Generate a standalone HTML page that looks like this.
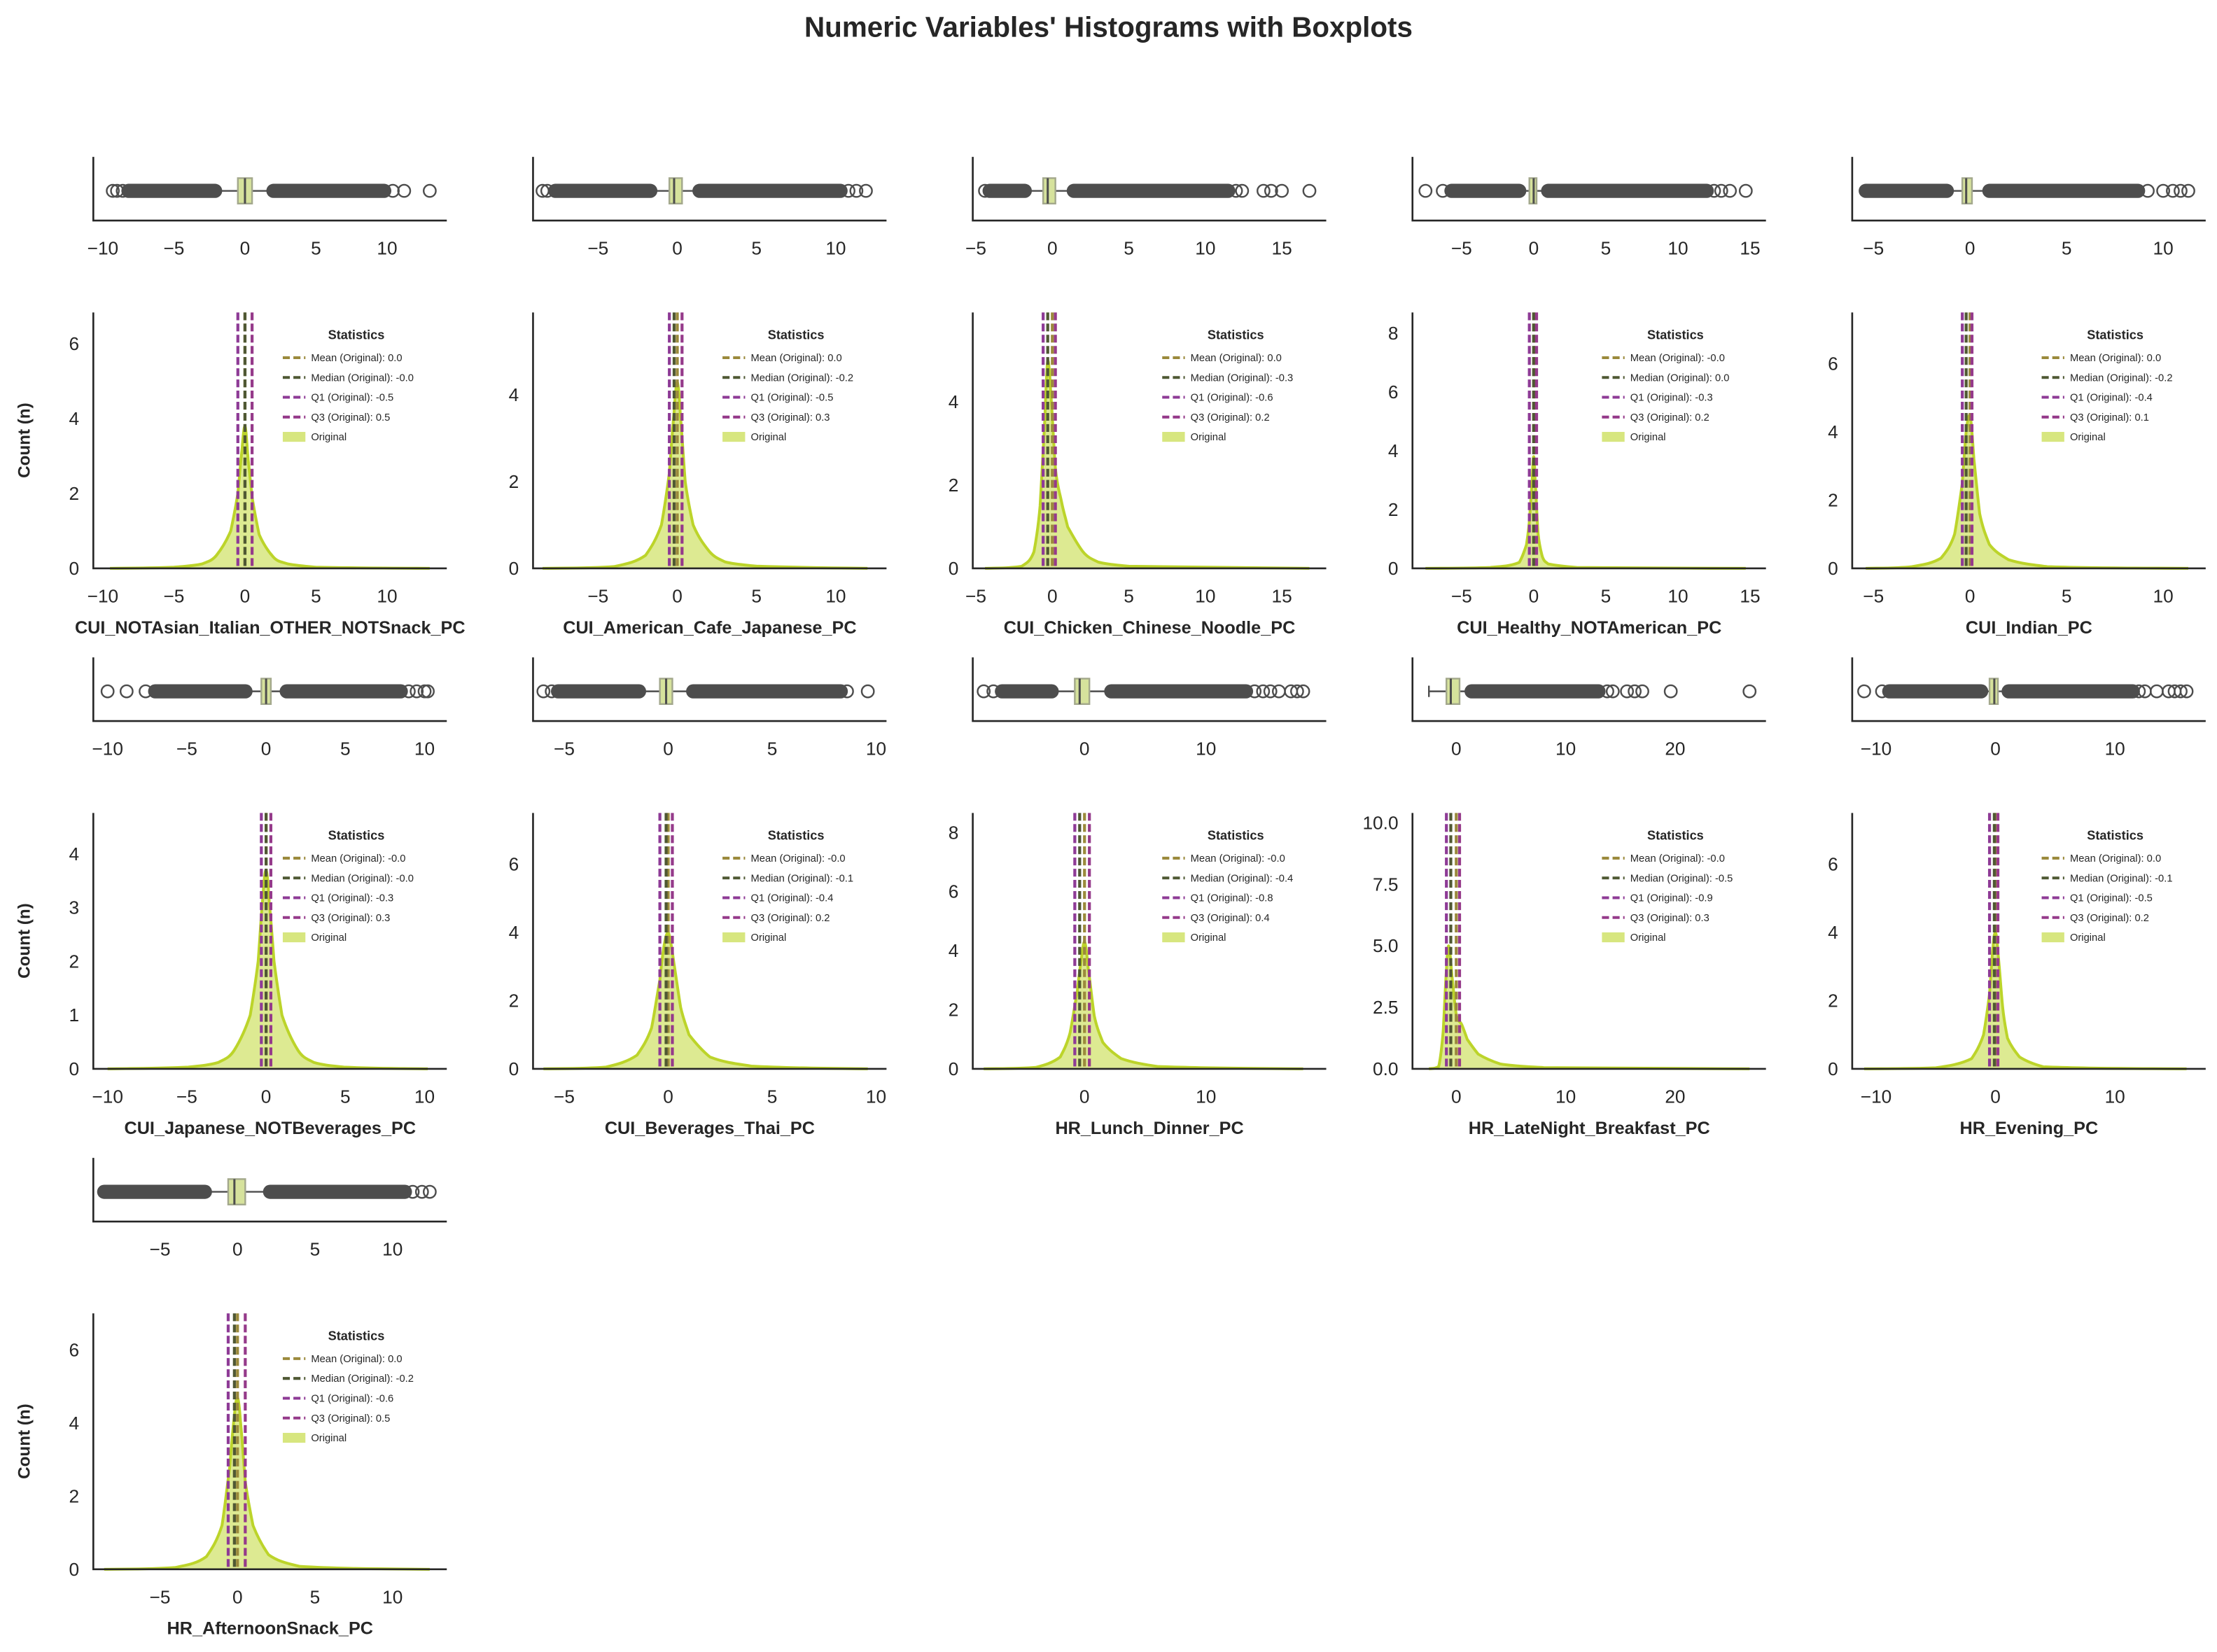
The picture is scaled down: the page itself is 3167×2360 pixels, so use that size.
<!DOCTYPE html>
<html><head><meta charset="utf-8"><style>
html,body{margin:0;padding:0;background:#fff;}
svg{display:block;}
text{font-family:"Liberation Sans",Arial,sans-serif;fill:#262626;}
</style></head>
<body>
<svg id="fig" width="3167" height="2360" viewBox="0 0 1568 1168.5" preserveAspectRatio="none" xmlns="http://www.w3.org/2000/svg">
<rect width="1568" height="1168.5" fill="#fff"/>
<text x="784" y="26" text-anchor="middle" font-size="20" font-weight="bold">Numeric Variables' Histograms with Boxplots</text>
</svg>
<script>
const varNames=["CUI_NOTAsian_Italian_OTHER_NOTSnack_PC","CUI_American_Cafe_Japanese_PC","CUI_Chicken_Chinese_Noodle_PC","CUI_Healthy_NOTAmerican_PC","CUI_Indian_PC","CUI_Japanese_NOTBeverages_PC","CUI_Beverages_Thai_PC","HR_Lunch_Dinner_PC","HR_LateNight_Breakfast_PC","HR_Evening_PC","HR_AfternoonSnack_PC"];
const xMin=[-10.67,-9.1,-5.2,-8.4,-6.1,-10.9,-6.5,-9.2,-4.0,-12.0,-9.3];
const xMax=[14.2,13.2,17.9,16.1,12.2,11.4,10.5,19.9,28.3,17.6,13.5];
const xTicks=[[-10,-5,0,5,10],[-5,0,5,10],[-5,0,5,10,15],[-5,0,5,10,15],[-5,0,5,10],[-10,-5,0,5,10],[-5,0,5,10],[0,10],[0,10,20],[-10,0,10],[-5,0,5,10]];
const yMax=[6.83,5.9,6.15,8.7,7.5,4.76,7.5,8.66,10.4,7.5,7.0];
const yTicks=[[0,2,4,6],[0,2,4],[0,2,4],[0,2,4,6,8],[0,2,4,6],[0,1,2,3,4],[0,2,4,6],[0,2,4,6,8],[0,2.5,5,7.5,10],[0,2,4,6],[0,2,4,6]];
const yTickLabels=[["0","2","4","6"],["0","2","4"],["0","2","4"],["0","2","4","6","8"],["0","2","4","6"],["0","1","2","3","4"],["0","2","4","6"],["0","2","4","6","8"],["0.0","2.5","5.0","7.5","10.0"],["0","2","4","6"],["0","2","4","6"]];
const meanVals=["0.0","0.0","0.0","-0.0","0.0","-0.0","-0.0","-0.0","-0.0","0.0","0.0"];
const medianVals=["-0.0","-0.2","-0.3","0.0","-0.2","-0.0","-0.1","-0.4","-0.5","-0.1","-0.2"];
const q1Vals=["-0.5","-0.5","-0.6","-0.3","-0.4","-0.3","-0.4","-0.8","-0.9","-0.5","-0.6"];
const q3Vals=["0.5","0.3","0.2","0.2","0.1","0.3","0.2","0.4","0.3","0.2","0.5"];
const whiskerLo=[-2.0,-1.6,-1.7,-0.9,-1.1,-1.2,-1.3,-2.6,-2.5,-1.1,-2.0];
const whiskerHi=[1.9,1.3,1.3,0.9,0.85,1.2,1.1,2.1,1.3,1.0,2.0];
const denseLo=[[-8.2,-2.1],[-7.7,-1.7],[-4.1,-1.8],[-5.7,-1.0],[-5.4,-1.2],[-7.0,-1.3],[-5.3,-1.4],[-6.8,-2.7],null,[-8.9,-1.2],[-8.6,-2.1]];
const denseHi=[[2.0,9.8],[1.4,10.3],[1.4,11.5],[1.0,12.0],[1.0,8.7],[1.3,8.5],[1.2,8.3],[2.2,13.3],[1.4,13.0],[1.1,11.5],[2.1,10.8]];
const isoFliers=[[-9.3,-9.0,-8.6,10.4,11.2,13.0],[-8.5,-8.2,10.8,11.3,11.9],[-4.4,12.0,12.4,13.8,14.3,15.0,16.8],[-7.5,-6.3,12.5,13.0,13.6,14.7],[9.2,10.0,10.5,10.9,11.3],[-10.0,-8.8,-7.6,9.0,9.5,10.0,10.2],[-6.0,-5.6,8.6,9.6],[-8.3,-7.5,14.0,14.7,15.3,16.0,17.0,17.5,18.0],[13.8,14.3,15.6,16.3,17.0,19.6,26.8],[-11.0,-9.5,12.0,12.5,13.5,14.5,15.0,15.5,16.0],[11.3,11.9,12.4]];
const kdeX=[
[-9.5,-5,-3,-2,-1,-0.5,-0.2,0,0.2,0.5,1,2,3,5,13],
[-8.5,-4,-2,-1,-0.5,-0.2,0,0.2,0.5,1,2,3,5,12],
[-4.4,-2,-1.2,-0.8,-0.5,-0.3,-0.1,0.2,0.6,1,2,3,5,16.8],
[-7.5,-3,-1,-0.5,-0.3,-0.1,0,0.1,0.3,0.6,1,3,14.7],
[-5.4,-3,-1.5,-0.8,-0.4,-0.2,0,0.2,0.5,1,2,4,11.3],
[-10,-5,-3,-2,-1,-0.5,-0.2,0,0.2,0.5,1,2,3,5,10.2],
[-6,-3,-1.5,-0.8,-0.4,-0.2,0,0.3,0.6,1,2,4,9.6],
[-8.3,-4,-2,-1.2,-0.6,-0.3,0,0.3,0.8,1.5,3,6,18],
[-2.5,-1.6,-1.2,-0.9,-0.7,-0.4,0,0.5,1,2,4,8,26.8],
[-11,-5,-2,-1,-0.5,-0.2,0,0.2,0.6,1,2,4,16],
[-8.6,-4,-2,-1,-0.5,-0.2,0,0.2,0.5,1,2,4,12.4]];
const kdeY=[
[0,0.03,0.12,0.35,1.0,2.0,3.2,3.8,3.0,1.9,0.9,0.3,0.12,0.03,0],
[0,0.04,0.3,1.0,2.2,3.6,4.3,3.5,2.0,1.0,0.4,0.15,0.05,0],
[0,0.05,0.4,1.5,3.5,5.0,4.2,2.4,1.6,1.0,0.4,0.15,0.05,0],
[0,0.03,0.2,0.8,1.6,3.0,3.8,3.0,1.2,0.4,0.15,0.03,0],
[0,0.05,0.3,1.0,2.5,4.0,4.5,3.2,1.6,0.7,0.25,0.05,0],
[0,0.03,0.12,0.35,1.0,2.0,3.2,3.7,3.1,2.0,1.0,0.35,0.12,0.03,0],
[0,0.05,0.4,1.2,2.6,3.6,4.0,3.0,1.8,1.0,0.35,0.08,0],
[0,0.05,0.4,1.2,2.6,3.6,4.3,3.4,1.8,0.9,0.35,0.08,0],
[0,0.1,1.5,4.0,5.0,3.8,2.2,1.8,1.2,0.6,0.2,0.05,0],
[0,0.03,0.3,1.0,2.2,3.6,4.0,3.4,1.8,0.9,0.35,0.06,0],
[0,0.05,0.35,1.2,2.8,4.2,4.7,4.0,2.4,1.2,0.4,0.08,0]];

const NS="http://www.w3.org/2000/svg";
const svg=document.getElementById('fig');
function mk(tag,attrs,parent){const e=document.createElementNS(NS,tag);for(const k in attrs)e.setAttribute(k,attrs[k]);(parent||svg).appendChild(e);return e;}
function smooth(pts){
  let d='M'+pts[0][0]+','+pts[0][1];
  for(let k=0;k<pts.length-1;k++){
    const p0=pts[Math.max(0,k-1)],p1=pts[k],p2=pts[k+1],p3=pts[Math.min(pts.length-1,k+2)];
    const t=0.18;
    let c1y=p1[1]+(p2[1]-p0[1])*t,c2y=p2[1]-(p3[1]-p1[1])*t;
    const lo=Math.max(p1[1],p2[1]),hi=Math.min(p1[1],p2[1]);
    c1y=Math.min(lo,Math.max(hi,c1y));c2y=Math.min(lo,Math.max(hi,c2y));
    const c1x=p1[0]+(p2[0]-p1[0])/3,c2x=p2[0]-(p2[0]-p1[0])/3;
    d+=`C${c1x},${c1y} ${c2x},${c2y} ${p2[0]},${p2[1]}`;
  }
  return d;
}
const COL_W=250,COL_GAP=311,LEFT0=66,ROW_GAP=354;
const BOX_TOP0=111,BOX_H=45,HIST_TOP0=221,HIST_H=181;
const C_MEAN="#9b8a3c",C_MED="#4f5833",C_Q1="#8e3b96",C_Q3="#953a8a";

varNames.forEach((name,i)=>{
  const col=i%5,row=Math.floor(i/5);
  const L=LEFT0+col*COL_GAP,R=L+COL_W;
  const bt=BOX_TOP0+row*ROW_GAP,bb=bt+BOX_H;
  const ht=HIST_TOP0+row*ROW_GAP,hb=ht+HIST_H;
  const sx=v=>L+(v-xMin[i])/(xMax[i]-xMin[i])*COL_W;
  const syH=v=>hb-v/yMax[i]*HIST_H;
  const g=mk('g',{});
  
  
  const cy=bt+24;
  const q1=parseFloat(q1Vals[i]),q3=parseFloat(q3Vals[i]),med=parseFloat(medianVals[i]);
  const wl=mk('line',{x1:sx(whiskerLo[i]),x2:sx(q1),y1:cy,y2:cy,stroke:'#4d4d4d','stroke-width':1.2},g);
  
  
  const wh=mk('line',{x1:sx(q3),x2:sx(whiskerHi[i]),y1:cy,y2:cy,stroke:'#4d4d4d','stroke-width':1.2},g);
  
  
  if(!denseLo[i]){const cap=mk('line',{x1:sx(whiskerLo[i]),x2:sx(whiskerLo[i]),y1:cy-4,y2:cy+4,stroke:'#4d4d4d','stroke-width':1.2},g);
    
    }
  [denseLo[i],denseHi[i]].forEach(seg=>{if(!seg)return;
    const s=mk('line',{x1:sx(seg[0]),x2:sx(seg[1]),y1:cy,y2:cy,stroke:'#4d4d4d','stroke-width':10,'stroke-linecap':'round'},g);
    
    });
  isoFliers[i].forEach(v=>{
    const c=mk('circle',{cx:sx(v),cy:cy,r:4.3,fill:'none',stroke:'#4d4d4d','stroke-width':1.2},g);
    
    });
  const box=mk('rect',{x:sx(q1),y:cy-9,width:sx(q3)-sx(q1),height:18,fill:'#d6e29c',stroke:'#a3a88c','stroke-width':1.2},g);
  
  
  const ml=mk('line',{x1:sx(med),x2:sx(med),y1:cy-9,y2:cy+9,stroke:'#4d4d4d','stroke-width':1.5},g);
  
  
  const bax=mk('path',{d:`M${L},${bt}V${bb}H${R}`,fill:'none',stroke:'#262626','stroke-width':1.3},g);
  
  
  xTicks[i].forEach(t=>{
    const tx=mk('text',{x:sx(t),y:bb+24,'text-anchor':'middle','font-size':13},g);
    tx.textContent=(t<0?'\u2212'+(-t):String(t));
    
    });
  const h=mk('g',{});
  
  
  const pts=kdeX[i].map((x,k)=>[sx(x),syH(kdeY[i][k])]);
  const ld=smooth(pts);
  const fillD=ld+`L${pts[pts.length-1][0]},${hb}L${pts[0][0]},${hb}Z`;
  const area=mk('path',{d:fillD,fill:'#d7e67f','fill-opacity':0.85},h);
  
  
  const kde=mk('path',{d:ld,fill:'none',stroke:'#bcd42a','stroke-width':2,'stroke-linejoin':'round'},h);
  
  
  [[meanVals,C_MEAN,'mean-line'],[medianVals,C_MED,'median-line'],[q1Vals,C_Q1,'q1-line'],[q3Vals,C_Q3,'q3-line']].forEach(([arr,c,nm])=>{
    const x=sx(parseFloat(arr[i]));
    const vl=mk('line',{x1:x,x2:x,y1:ht,y2:hb,stroke:c,'stroke-width':2.1,'stroke-dasharray':'5.5,2.4'},h);
    
    });
  const hax=mk('path',{d:`M${L},${ht}V${hb}H${R}`,fill:'none',stroke:'#262626','stroke-width':1.3},h);
  
  
  xTicks[i].forEach(t=>{
    const tx=mk('text',{x:sx(t),y:hb+24,'text-anchor':'middle','font-size':13},h);
    tx.textContent=(t<0?'\u2212'+(-t):String(t));
    
    });
  yTicks[i].forEach((t,k)=>{
    const ty=mk('text',{x:L-10,y:syH(t)+4.5,'text-anchor':'end','font-size':13},h);
    ty.textContent=yTickLabels[i][k];
    
    });
  const xl=mk('text',{x:(L+R)/2,y:hb+46,'text-anchor':'middle','font-size':12.5,'font-weight':'bold'},h);
  xl.textContent=name;
  
  
  if(col===0){
    const yl=mk('text',{x:0,y:0,'text-anchor':'middle','font-size':12,'font-weight':'bold',transform:`translate(${21},${(ht+hb)/2}) rotate(-90)`},h);
    yl.textContent='Count (n)';
    
    }
  const lg=mk('g',{},h);
  
  
  const lt=mk('text',{x:L+186,y:ht+19,'text-anchor':'middle','font-size':9,'font-weight':'bold'},lg);
  lt.textContent='Statistics';
  
  
  const entries=[[C_MEAN,'Mean (Original): '+meanVals[i]],[C_MED,'Median (Original): '+medianVals[i]],[C_Q1,'Q1 (Original): '+q1Vals[i]],[C_Q3,'Q3 (Original): '+q3Vals[i]],['patch','Original']];
  entries.forEach(([c,label],k)=>{
    const y=ht+32+k*14;
    if(c==='patch'){const p=mk('rect',{x:L+134,y:y-3.5,width:16,height:7,fill:'#d7e67f'},lg);
      
      }
    else{const s=mk('line',{x1:L+134,x2:L+150,y1:y,y2:y,stroke:c,'stroke-width':2,'stroke-dasharray':'5,2.5'},lg);
      
      }
    const tx=mk('text',{x:L+154,y:y+2.5,'font-size':7.3},lg);
    tx.textContent=label;
    
    });
});
</script>
</body></html>
